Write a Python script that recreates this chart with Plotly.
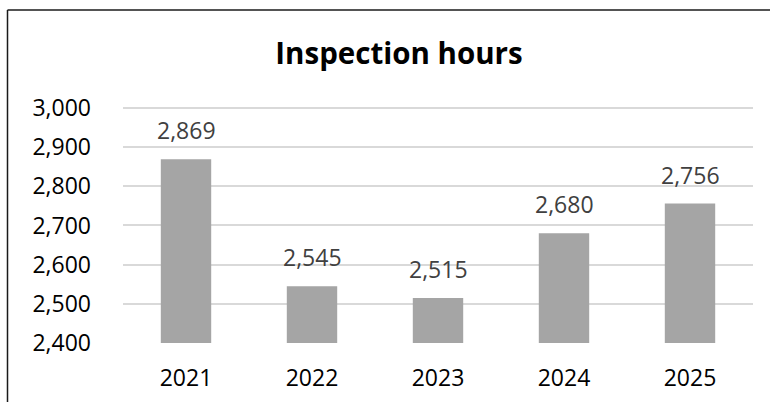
import plotly.graph_objects as go

years = ["2021", "2022", "2023", "2024", "2025"]
hours = [2869, 2545, 2515, 2680, 2756]
yticks = [2400, 2500, 2600, 2700, 2800, 2900, 3000]

W, H = 770, 402
L, R, B = 123, 17, 59
YMIN, YMAX = 2400, 3010
# keep 3000 at pixel 108 while leaving headroom for its gridline
T = 104
pw, ph = W - L - R, H - T - B

def px_x(p):
    return (p - L) / pw

def px_y(p):
    return (H - B - p) / ph

FONT = "Open Sans, Noto Sans, sans-serif"
TS = 23

fig = go.Figure(go.Bar(
    x=years, y=hours,
    marker=dict(color="#a5a5a5", line=dict(width=0)),
    hoverinfo="x+y",
))

for i, v in enumerate(hours):
    fig.add_annotation(x=i, y=v, text=f"{v:,}", showarrow=False,
                       yanchor="middle", yshift=29,
                       font=dict(size=TS, color="#404040", family=FONT))

fig.update_layout(
    width=W, height=H,
    margin=dict(l=L, r=R, t=T, b=B, autoexpand=False),
    paper_bgcolor="white", plot_bgcolor="white",
    bargap=0.6,
    showlegend=False,
    font=dict(family=FONT, color="black"),
    title=dict(text="<b>Inspection hours</b>", x=399 / W, xanchor="center",
               y=1 - 54 / H, yanchor="middle",
               font=dict(size=29.5, color="black", family=FONT)),
    xaxis=dict(type="category", range=[-0.5, len(years) - 0.5],
               showgrid=False, showline=False, ticks="",
               automargin=False, ticklabelstandoff=19,
               tickfont=dict(size=TS, color="black")),
    yaxis=dict(range=[YMIN, YMAX], tickvals=yticks, automargin=False,
               tickformat=",", showgrid=True, gridcolor="#d9d9d9", gridwidth=1.5,
               zeroline=False, showline=False, ticks="",
               ticklabelstandoff=31,
               tickfont=dict(size=TS, color="black")),
    shapes=[
        dict(type="line", xref="paper", yref="paper",
             x0=px_x(7.5), x1=px_x(7.5), y0=px_y(10), y1=px_y(402),
             line=dict(color="#1a1a1a", width=1.5)),
        dict(type="line", xref="paper", yref="paper",
             x0=px_x(7.5), x1=px_x(770), y0=px_y(10), y1=px_y(10),
             line=dict(color="#1a1a1a", width=1.5)),
    ],
)

fig.write_html("out.html", config={"displayModeBar": False},
               post_script="document.body.style.margin='0';")
